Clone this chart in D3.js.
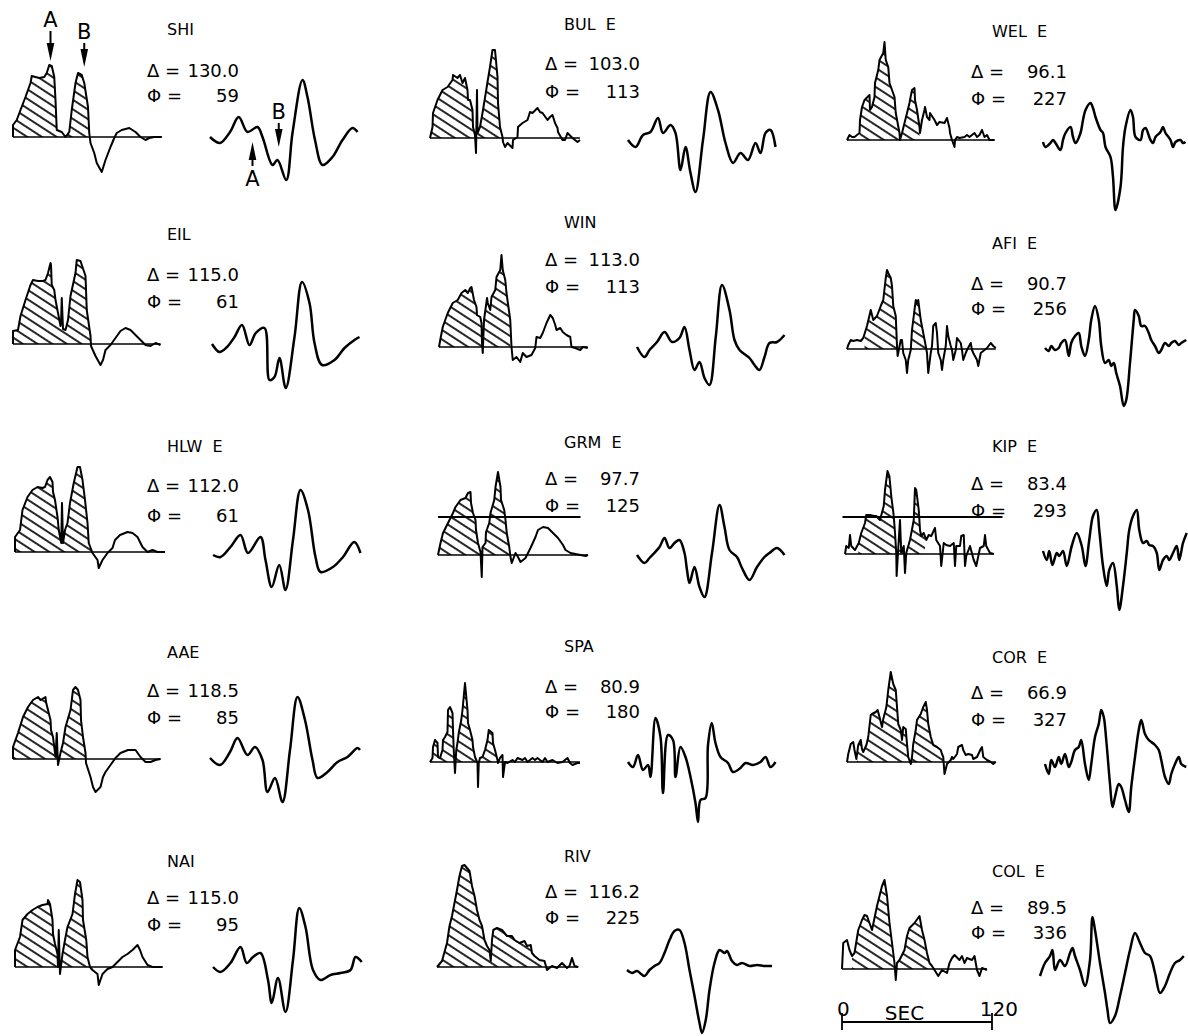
<!DOCTYPE html>
<html>
<head>
<meta charset="utf-8">
<script src="https://cdn.jsdelivr.net/npm/d3@7/dist/d3.min.js"></script>
<style>
body { margin: 0; background: #fff; }
text { font-family: "DejaVu Sans", sans-serif; fill: #000; }
</style>
</head>
<body>
<div id="chart-area"></div>
<script>
// station order: row by row, three columns
var stations = ["SHI", "BUL  E", "WEL  E", "EIL", "WIN", "AFI  E", "HLW  E", "GRM  E", "KIP  E",
                "AAE", "SPA", "COR  E", "NAI", "RIV", "COL  E"];
var distances = ["130.0", "103.0", "96.1", "115.0", "113.0", "90.7", "112.0", "97.7", "83.4",
                 "118.5", "80.9", "66.9", "115.0", "116.2", "89.5"];
var azimuths = ["59", "113", "227", "61", "113", "256", "61", "125", "293",
                "85", "180", "327", "95", "225", "336"];

// source time functions: [seconds, relative amplitude]
var stfSHI = [[0,0],[0,12],[3,17],[6,27],[10,40],[14,54],[15,61],[21,59],[25,60],[27,64],[29,72],[31,71],[33,60],[34,37],[35,7],[39,5],[42,0],[45,5],[47,27],[50,54],[52,64],[55,62],[57,54],[60,30],[61,4],[62,-6],[65,-16],[67,-26],[71,-35],[74,-23],[78,-10],[81,-1],[83,4],[87,7],[93,9],[98,5],[102,0],[106,-3],[109,-1],[113,0],[119,0]];
var stfBUL = [[0,0],[2,11],[2.4,25],[6,38],[10,48],[14,51],[18,58],[18.4,63],[22,60],[24,63],[26,55],[28,60],[30,48],[30.4,38],[32,38],[34,28],[34.4,11],[36,3],[36.8,-15],[37.6,48],[38,5],[40,11],[42,25],[45,48],[46,56],[48,71],[50,88],[52,88],[54,61],[54.4,35],[56,11],[58,1],[58.4,-4],[60,-9],[62,-5],[66,-10],[66.4,-2],[70,1],[70.4,11],[74,15],[78,18],[80,26],[82,25],[86,30],[88,26],[90,25],[94,18],[96,21],[98,23],[100,15],[102,10],[102.4,6],[106,-2],[108,-2],[110,5],[114,0],[118,-4],[120,-2]];
var stfWEL = [[0,0],[2,5],[4,3],[6,3],[10,7],[10.4,20],[12,33],[14,40],[18,45],[18.4,30],[20,33],[22,43],[22.4,57],[25,70],[26,80],[29,87],[30,98],[31,80],[33,73],[34,57],[38,43],[39,27],[42,7],[42.4,0],[44,7],[46,17],[48,27],[50,37],[50.4,40],[52,50],[54,52],[54.4,40],[56,30],[58,13],[58.4,7],[60,20],[62,30],[62.4,33],[64,23],[66,20],[66.4,27],[70,20],[72,15],[74,18],[78,17],[80,22],[82,12],[82.4,7],[84,0],[86,-7],[86.4,0],[88,3],[90,2],[94,3],[96,5],[98,3],[102,7],[104,3],[106,5],[108,10],[110,3],[112,5],[114,0],[118,0]];
var stfEIL = [[0,0],[0,13],[4,14],[6,28],[10,44],[14,59],[16,64],[20,63],[24,63],[26,64],[28,71],[30,81],[30.4,79],[31,59],[33,54],[34,44],[36,31],[38,18],[38.4,20],[39,46],[40,15],[42,14],[44,24],[46,48],[50,71],[51,84],[54,83],[58,68],[59,34],[62,8],[62.4,-2],[66,-12],[70,-21],[72,-16],[74,-6],[78,-1],[82,6],[86,13],[90,16],[94,14],[98,9],[102,4],[106,-1],[110,-2],[114,1],[118,-1]];
var stfWIN = [[0,0],[1,7],[3,20],[7,34],[11,44],[15,47],[18,54],[21,57],[23,54],[25,59],[26,60],[28,47],[30,40],[30.4,32],[33,30],[34,24],[34.4,4],[35,-6],[36,27],[38,45],[38.4,49],[39,44],[41,37],[42,50],[45,57],[46,70],[49,77],[50,92],[51,77],[53,67],[54,54],[57,27],[58,0],[59,-13],[62,-10],[65,-15],[67,-6],[70,-10],[74,-8],[77,-1],[78,10],[81,9],[83,14],[86,24],[89,32],[91,29],[93,22],[94,17],[97,19],[99,15],[102,12],[105,10],[106,0],[109,-1],[113,-3],[115,0],[119,-1]];
var stfAFI = [[0,0],[1,4],[3,9],[5,8],[8,9],[11,8],[13,11],[16,23],[19,39],[21,29],[24,33],[27,43],[29,49],[31,71],[32,79],[33,76],[35,71],[36,63],[37,43],[39,33],[40,3],[40.5,-7],[43,9],[44,9],[45,-4],[47,-11],[48,-24],[49,-11],[51,-1],[52,19],[53,29],[55,49],[56,46],[57,49],[59,29],[61,16],[63,3],[64,-4],[65,-24],[67,-4],[68,3],[69,23],[71,26],[72,16],[73,-4],[75,-11],[76,-21],[77,-11],[79,3],[80,23],[81,13],[83,3],[84,-1],[85,-11],[87,-1],[88,11],[91,6],[92,-1],[93,-11],[95,-4],[96,-1],[99,6],[100,-1],[101,-4],[104,-11],[105,-17],[107,-4],[109,-2],[112,1],[115,6],[117,3],[119,1]];
var stfHLW = [[0,0],[0,15],[4,22],[6,42],[10,55],[14,62],[18,65],[22,64],[24,65],[26,72],[28,75],[30,70],[30.4,60],[32,52],[34,35],[35,22],[37,9],[37.6,49],[38.4,9],[40,22],[42,29],[44,49],[47,69],[50,85],[52,85],[54,72],[56,52],[58,29],[59,9],[62,-1],[66,-8],[67,-16],[70,-8],[74,-1],[78,4],[80,12],[84,17],[90,20],[94,19],[98,15],[102,5],[106,0],[110,2],[114,0],[120,0]];
var stfGRM = [[0,0],[2,12],[4,22],[8,32],[12,42],[14,48],[18,55],[22,57],[24,62],[26,63],[26.4,52],[28,42],[30,35],[30.4,25],[32,12],[34,3],[35,-22],[35.6,8],[38,12],[38.4,23],[41,32],[42,42],[45,55],[46,68],[48,83],[50,68],[50.4,55],[53,45],[54,35],[55,22],[57,8],[58,-2],[59,-8],[62,2],[64,-2],[66,-7],[70,-3],[72,2],[74,7],[78,18],[80,25],[84,28],[88,27],[92,22],[96,17],[100,10],[102,5],[106,2],[110,1],[114,0],[118,-1],[120,0]];
var stfKIP = [[0,0],[1,8],[3,6],[4,19],[5,8],[8,4],[11,11],[13,21],[16,31],[17,39],[20,39],[23,38],[25,38],[28,34],[31,48],[32,64],[34,83],[35.5,78],[37,58],[39,38],[40,21],[41,1],[41.3,-22],[43,14],[44,34],[45,1],[47,8],[48,-19],[49,1],[52,14],[55,34],[56,66],[57,64],[59,44],[60,24],[61,18],[63,21],[65,14],[67,19],[69,18],[72,26],[73,14],[76,8],[77,-12],[79,11],[81,9],[84,8],[87,11],[88,-12],[89,8],[92,8],[93,18],[95,19],[96,-12],[97,-2],[100,8],[103,-6],[105,-12],[108,6],[111,8],[112,19],[113,8],[116,1],[119,0]];
var stfAAE = [[0,0],[0,12],[4,26],[8,42],[12,52],[16,59],[20,62],[22,59],[26,62],[26.4,57],[28,49],[30,39],[30.4,29],[32,22],[33,12],[34,2],[35,26],[36,-6],[38,6],[40,16],[42,32],[46,49],[48,69],[50,72],[52,69],[54,59],[54.4,39],[56,22],[58,6],[58.4,-4],[62,-18],[64,-28],[66,-33],[70,-28],[72,-18],[74,-13],[78,-6],[82,1],[86,6],[92,9],[98,9],[102,2],[106,-3],[110,-3],[114,-1],[118,0]];
var stfSPA = [[0,0],[2,4],[2.4,15],[4,22],[6,19],[6.4,5],[8,4],[10,12],[10.4,22],[12,25],[14,30],[14.4,52],[16,55],[18,49],[18.4,32],[19,12],[20,-11],[21,12],[22,19],[23,29],[25,42],[26,52],[28,79],[30,52],[30.4,39],[32,32],[34,22],[34.4,15],[36,5],[38,-1],[38.4,-25],[39,-1],[40,4],[42,5],[44,12],[46,22],[47,32],[50,29],[50.4,19],[52,12],[54,2],[54.4,-1],[56,4],[58,7],[58.4,-15],[60,0],[62,-1],[66,2],[68,0],[70,4],[74,2],[76,4],[78,0],[82,4],[84,2],[86,4],[90,0],[92,4],[94,0],[98,2],[102,-1],[106,0],[110,4],[112,-1],[114,-3],[118,-1],[120,-1]];
var stfCOR = [[0,0],[1,8],[3,18],[5,20],[6,12],[7.5,3],[9,17],[11,22],[12,13],[13,10],[15.5,17],[17,25],[19,47],[20,48],[23,50],[24.5,52],[26,45],[28,35],[29,43],[31.5,55],[33,72],[35,90],[37,78],[39,72],[40,55],[41,38],[43,32],[44,22],[45,35],[47,33],[48,18],[49,5],[51,-2],[52,5],[53,18],[55,32],[56,42],[59,48],[61,55],[63,60],[64,52],[65,38],[67,25],[69,17],[72,15],[75,12],[76,8],[77,5],[78,-12],[80,-2],[83,2],[84,5],[85,3],[88,8],[89,15],[92,17],[93,12],[95,7],[97,8],[100,7],[101,3],[104,5],[107,13],[108,15],[109,5],[112,2],[115,0],[117,-2],[119,0]];
var stfNAI = [[0,0],[0,17],[4,30],[6,47],[10,53],[14,57],[18,60],[22,62],[26,63],[26.4,67],[28,63],[30,47],[30.4,33],[32,23],[34,13],[34.4,0],[35,37],[36,-7],[38,13],[40,27],[42,40],[46,53],[48,73],[50,87],[52,85],[54,67],[54.4,47],[57,27],[58,10],[60,0],[62,-3],[66,-7],[67,-18],[70,-7],[74,-2],[78,0],[82,5],[86,10],[90,13],[94,17],[98,22],[100,17],[102,10],[106,2],[110,0],[118,0]];
var stfRIV = [[0,0],[4,6],[8,24],[10,41],[12,51],[14,64],[16,77],[18,91],[20,101],[22,102],[24,99],[26,96],[28,81],[30,71],[32,57],[34,47],[36,41],[38,27],[40,21],[42,17],[43,6],[44,27],[45,37],[48,39],[52,37],[56,31],[60,31],[62,27],[66,24],[70,26],[72,21],[75,22],[76,14],[78,11],[82,7],[86,6],[88,-3],[92,1],[96,-1],[100,4],[104,-1],[106,1],[108,9],[110,1],[113,0]];
var stfCOL = [[0,0],[1,26],[4,29],[6,19],[8,13],[10,16],[13,39],[16,49],[18,54],[20,53],[24,39],[28,63],[32,83],[34,89],[36,73],[38,46],[40,26],[42,6],[43,-11],[44,6],[46,9],[50,19],[52,33],[54,41],[58,46],[62,53],[64,39],[66,29],[68,16],[70,6],[72,3],[74,-1],[77,-7],[80,-1],[84,-4],[86,6],[88,11],[90,14],[94,9],[96,13],[98,6],[100,11],[104,9],[106,13],[108,-1],[110,-7],[112,1],[116,-1]];

// hatched part of each source time function (seconds)
var hatchStart = [0, 0, 10, 0, 0, 14, 0, 0, 10.7, 0, 0, 8, 0, 0, 8];
var hatchEnd = [61.5, 56, 58, 62, 57, 63, 61, 58, 64, 58, 56, 77, 60, 84, 70];

// observed P waveforms: [seconds, relative amplitude]
var waveSHI = [[0,0],[8,-6],[16,5],[23,20],[30,5],[38,10],[42,0],[50,-28],[54,-23],[61,-43],[66,4],[74,57],[78,40],[84,-3],[90,-28],[98,-20],[106,-3],[114,9],[118,5]];
var waveBUL = [[0,-2],[6,-9],[12,3],[18,6],[24,20],[28,5],[34,13],[38,5],[42,-32],[46,-9],[50,-35],[54,-54],[60,-2],[66,46],[72,28],[78,-5],[84,-25],[90,-15],[96,-22],[102,-5],[106,-15],[110,5],[114,8],[118,-9]];
var waveWEL = [[0,-2],[2,-7],[6,-3],[8,0],[10,-3],[14,-10],[16,0],[18,7],[22,13],[24,3],[26,-3],[30,7],[32,20],[34,30],[38,37],[40,32],[42,23],[46,10],[48,7],[50,-7],[54,-17],[56,-37],[58,-70],[62,-47],[64,-7],[66,13],[70,30],[72,23],[74,3],[78,0],[80,10],[82,12],[86,0],[88,-3],[90,3],[94,8],[96,13],[98,7],[102,0],[104,-7],[106,-2],[110,0],[112,-3],[114,-2]];
var waveEIL = [[0,0],[6,-8],[12,-3],[18,7],[24,19],[30,-1],[35,11],[42,16],[46,-36],[50,-33],[54,-14],[59,-44],[66,7],[72,62],[78,41],[82,1],[88,-21],[98,-16],[106,-4],[114,4],[118,7]];
var waveWIN = [[0,0],[6,-10],[10,-3],[16,5],[22,15],[28,5],[34,9],[38,20],[42,-3],[46,-23],[50,-15],[54,-31],[58,-38],[63,10],[68,62],[74,37],[78,7],[82,-3],[90,-11],[94,-18],[98,-23],[102,-10],[106,4],[112,5],[118,12]];
var waveAFI = [[0,1],[3,-2],[5,3],[8,-1],[11,1],[13,6],[16,9],[19,-7],[21,6],[24,13],[27,16],[29,3],[32,-7],[35,9],[37,29],[40,43],[43,29],[45,3],[48,-14],[51,-11],[53,-17],[55,-14],[57,-24],[60,-37],[63,-57],[65,-51],[68,-14],[71,29],[72,39],[75,33],[77,23],[80,23],[83,16],[85,9],[88,3],[91,-4],[93,-1],[96,6],[99,3],[101,6],[104,8],[107,4],[109,6],[113,9]];
var waveHLW = [[0,-3],[6,-5],[14,5],[22,17],[28,-1],[38,15],[42,-8],[47,-35],[53,-13],[58,-38],[64,12],[70,62],[76,42],[82,-5],[86,-20],[96,-15],[104,-5],[113,10],[118,-1]];
var waveGRM = [[0,0],[6,-8],[10,-3],[18,8],[22,17],[26,7],[30,12],[34,15],[38,2],[40,-15],[42,-28],[46,-12],[50,-32],[54,-42],[60,2],[66,50],[70,28],[74,5],[80,-2],[84,-13],[90,-25],[96,-12],[102,-2],[106,2],[112,7],[118,0]];
var waveKIP = [[0,3],[3,-6],[5,3],[7.5,-11],[11,1],[13,-2],[16,3],[19,-12],[23,8],[27,21],[31,8],[34,-12],[37,14],[40,38],[43,44],[45,24],[48,-12],[51,-32],[53,-16],[56,-9],[59,-32],[61,-56],[64,-32],[67,1],[69,24],[72,38],[75,44],[77,24],[80,11],[83,13],[85,9],[88,8],[91,1],[93,-16],[96,-6],[99,-2],[101,-6],[104,1],[107,8],[109,-6],[112,11],[115,21]];
var waveAAE = [[0,1],[8,-6],[16,7],[22,21],[30,4],[36,12],[42,-1],[46,-33],[52,-19],[58,-43],[64,9],[70,62],[76,39],[82,-1],[86,-19],[94,-13],[102,-3],[110,2],[118,11],[120,9]];
var waveSPA = [[0,0],[4,-5],[8,7],[12,-8],[16,-3],[18,-15],[22,44],[26,25],[28,-31],[32,27],[36,22],[38,-15],[42,15],[46,5],[50,-15],[54,-41],[56,-60],[58,-38],[62,-36],[64,17],[67,39],[70,19],[74,5],[80,-1],[84,-10],[90,-6],[94,-1],[100,-3],[106,0],[110,5],[114,-5],[118,0]];
var waveCOR = [[0,-2],[3,-12],[5,2],[8,-5],[11,5],[13,-2],[16,8],[19,-5],[21,0],[24,12],[27,15],[29,22],[32,-2],[35,-18],[37,-2],[40,25],[43,38],[45,52],[47,45],[49,22],[52,-22],[54,-45],[56,-35],[59,-22],[61,-25],[64,-38],[67,-50],[69,-25],[72,5],[75,32],[77,42],[80,28],[83,22],[85,20],[88,17],[91,12],[93,2],[96,-15],[99,-22],[101,-12],[104,-2],[107,5],[109,-2],[113,-5]];
var waveNAI = [[0,0],[6,-5],[14,4],[22,20],[27,4],[32,10],[38,14],[44,-13],[47,-36],[52,-11],[58,-45],[64,7],[69,59],[74,40],[80,-3],[86,-13],[94,-8],[102,-6],[110,-3],[114,10],[119,5]];
var waveRIV = [[0,-3],[4,-6],[8,-4],[14,-9],[18,-3],[22,1],[26,4],[30,14],[34,27],[38,36],[42,37],[46,24],[50,-3],[54,-29],[58,-56],[60,-66],[63,-53],[66,-23],[70,4],[74,17],[78,14],[80,16],[84,6],[88,2],[92,4],[98,1],[104,2],[110,1],[116,1]];
var waveCOL = [[0,-7],[4,6],[8,13],[10,19],[12,-1],[16,9],[20,3],[24,16],[26,21],[28,13],[32,-1],[36,-17],[40,9],[42,52],[44,39],[48,6],[52,-24],[54,-41],[56,-54],[60,-47],[64,-27],[68,-4],[72,19],[76,36],[80,26],[84,16],[88,13],[92,-4],[96,-24],[100,-17],[104,-4],[108,6],[112,9],[115,13]];

// reference level lines drawn over two of the source functions
var levelPanels = [7, 8];
var levelAmp = [38, 37];
var levelFrom = [0, -2];
var levelTo = [114, 126];

// A / B markers on the SHI panel
var markLabels = ["A", "B", "A", "B"];
var markPlot = ["stf", "stf", "wave", "wave"];
var markTime = [30, 57, 34, 55];
var markTipAmp = [76, 70, -5, -10];
var markDir = [-1, -1, 1, -1];   // -1 points down, 1 points up

var stfs = [stfSHI, stfBUL, stfWEL, stfEIL, stfWIN, stfAFI, stfHLW, stfGRM, stfKIP,
            stfAAE, stfSPA, stfCOR, stfNAI, stfRIV, stfCOL];
var waves = [waveSHI, waveBUL, waveWEL, waveEIL, waveWIN, waveAFI, waveHLW, waveGRM, waveKIP,
             waveAAE, waveSPA, waveCOR, waveNAI, waveRIV, waveCOL];

// ---- layout (pixels) ----
var stfLeft = [13, 430, 847, 13, 439, 847, 15, 438, 845, 13, 430, 847, 15, 437, 842];
var waveLeft = [210, 628, 1043, 212, 637, 1045, 213, 637, 1043, 210, 628, 1045, 213, 627, 1040];
var baseY = [137, 138, 140, 344, 347, 349, 552, 555, 554, 759, 762, 762, 967, 967, 969];
var labelY = [29, 24, 31, 234, 222, 243, 446, 442, 446, 652, 646, 657, 861, 856, 871];
var deltaY = [70, 63, 71, 274, 259, 283, 485, 478, 483, 690, 686, 692, 897, 891, 907];
var phiY = [95, 91, 98, 301, 286, 308, 515, 505, 510, 717, 711, 719, 924, 917, 932];
var labelX = [167, 564, 992];
var symX = [147, 545, 971];
var valueRight = [239, 640, 1067];
var pxPer120s = 150;

var svg = d3.select("#chart-area").append("svg")
    .attr("width", 1188)
    .attr("height", 1036)
    .style("display", "block");

svg.append("rect")
    .attr("width", 1188)
    .attr("height", 1036)
    .attr("fill", "#fff");

var defs = svg.append("defs");
defs.append("pattern")
    .attr("id", "hatch")
    .attr("patternUnits", "userSpaceOnUse")
    .attr("width", 10)
    .attr("height", 8)
    .attr("patternTransform", "rotate(33)")
  .append("line")
    .attr("x1", -1).attr("y1", 4)
    .attr("x2", 11).attr("y2", 4)
    .attr("stroke", "#000")
    .attr("stroke-width", 1.7);

var panelScales = [];

stations.forEach(function(name, i){
    var col = i % 3;
    var x = d3.scaleLinear().domain([0, 120]).range([stfLeft[i], stfLeft[i] + pxPer120s]);
    var xw = d3.scaleLinear().domain([0, 120]).range([waveLeft[i], waveLeft[i] + pxPer120s]);
    var y = d3.scaleLinear().domain([-100, 100]).range([baseY[i] + 100, baseY[i] - 100]);
    panelScales.push({x: x, xw: xw, y: y});

    var g = svg.append("g").attr("class", "panel");
    var stf = stfs[i];

    // hatched pulses: clip the area to the chosen time window, above zero
    defs.append("clipPath")
        .attr("id", "clip" + i)
      .append("rect")
        .attr("x", x(hatchStart[i]))
        .attr("y", y(0) - 130)
        .attr("width", x(hatchEnd[i]) - x(hatchStart[i]))
        .attr("height", 130);

    var area = d3.area()
        .x(function(d){ return x(d[0]); })
        .y0(y(0))
        .y1(function(d){ return y(d[1]); });

    g.append("path")
        .datum(stf)
        .attr("d", area)
        .attr("fill", "url(#hatch)")
        .attr("clip-path", "url(#clip" + i + ")");

    // zero line
    g.append("line")
        .attr("x1", x(0))
        .attr("x2", x(stf[stf.length - 1][0]))
        .attr("y1", y(0))
        .attr("y2", y(0))
        .attr("stroke", "#000")
        .attr("stroke-width", 1.4);

    var line = d3.line()
        .x(function(d){ return x(d[0]); })
        .y(function(d){ return y(d[1]); });

    g.append("path")
        .datum(stf)
        .attr("d", line)
        .attr("fill", "none")
        .attr("stroke", "#000")
        .attr("stroke-width", 2)
        .attr("stroke-linejoin", "round");

    // seismogram
    var waveLine = d3.line()
        .curve(d3.curveCatmullRom.alpha(0.5))
        .x(function(d){ return xw(d[0]); })
        .y(function(d){ return y(d[1]); });

    g.append("path")
        .datum(waves[i])
        .attr("d", waveLine)
        .attr("fill", "none")
        .attr("stroke", "#000")
        .attr("stroke-width", 2.5)
        .attr("stroke-linejoin", "round");

    // texts
    g.append("text")
        .attr("x", labelX[col])
        .attr("y", labelY[i] + 6)
        .attr("font-size", 16)
        .style("white-space", "pre")
        .text(name);

    g.append("text")
        .attr("x", symX[col])
        .attr("y", deltaY[i] + 6.5)
        .attr("font-size", 18)
        .style("white-space", "pre")
        .text("\u0394 =");
    g.append("text")
        .attr("x", valueRight[col])
        .attr("y", deltaY[i] + 6.5)
        .attr("font-size", 18)
        .attr("text-anchor", "end")
        .text(distances[i]);

    g.append("text")
        .attr("x", symX[col])
        .attr("y", phiY[i] + 6.5)
        .attr("font-size", 18)
        .style("white-space", "pre")
        .text("\u03A6 =");
    g.append("text")
        .attr("x", valueRight[col])
        .attr("y", phiY[i] + 6.5)
        .attr("font-size", 18)
        .attr("text-anchor", "end")
        .text(azimuths[i]);
});

// level lines
levelPanels.forEach(function(p, k){
    var s = panelScales[p];
    svg.append("line")
        .attr("x1", s.x(levelFrom[k]))
        .attr("x2", s.x(levelTo[k]))
        .attr("y1", s.y(levelAmp[k]))
        .attr("y2", s.y(levelAmp[k]))
        .attr("stroke", "#000")
        .attr("stroke-width", 1.8);
});

// A / B arrows on SHI
var s0 = panelScales[0];
markLabels.forEach(function(lab, k){
    var px = markPlot[k] == "stf" ? s0.x(markTime[k]) : s0.xw(markTime[k]);
    var tip = s0.y(markTipAmp[k]);
    var dir = markDir[k];
    var len = (k == 0) ? 30 : 24;
    var tail = tip + dir * len;
    var headEnd = tip + dir * 18;
    svg.append("line")
        .attr("x1", px).attr("x2", px)
        .attr("y1", tail).attr("y2", headEnd)
        .attr("stroke", "#000")
        .attr("stroke-width", 2);
    svg.append("path")
        .attr("d", "M" + (px - 3.8) + "," + headEnd + "L" + (px + 3.8) + "," + headEnd + "L" + px + "," + tip + "Z")
        .attr("fill", "#000");
    svg.append("text")
        .attr("x", px)
        .attr("y", tail + dir * 12 + 7.5)
        .attr("text-anchor", "middle")
        .attr("font-size", 21)
        .text(lab);
});

// time scale bar under COL
var sc = panelScales[14];
var barY = 1022;
svg.append("line")
    .attr("x1", sc.x(0)).attr("x2", sc.x(120))
    .attr("y1", barY).attr("y2", barY)
    .attr("stroke", "#000").attr("stroke-width", 1.8);
[0, 120].forEach(function(t){
    svg.append("line")
        .attr("x1", sc.x(t)).attr("x2", sc.x(t))
        .attr("y1", barY - 9).attr("y2", barY + 8)
        .attr("stroke", "#000").attr("stroke-width", 1.8);
});
svg.append("text")
    .attr("x", sc.x(0) - 5).attr("y", 1016)
    .attr("font-size", 20)
    .text("0");
svg.append("text")
    .attr("x", sc.x(50)).attr("y", 1020)
    .attr("font-size", 20)
    .attr("text-anchor", "middle")
    .text("SEC");
svg.append("text")
    .attr("x", sc.x(120) + 26).attr("y", 1016)
    .attr("font-size", 20)
    .attr("text-anchor", "end")
    .text("120");
</script>
</body>
</html>
